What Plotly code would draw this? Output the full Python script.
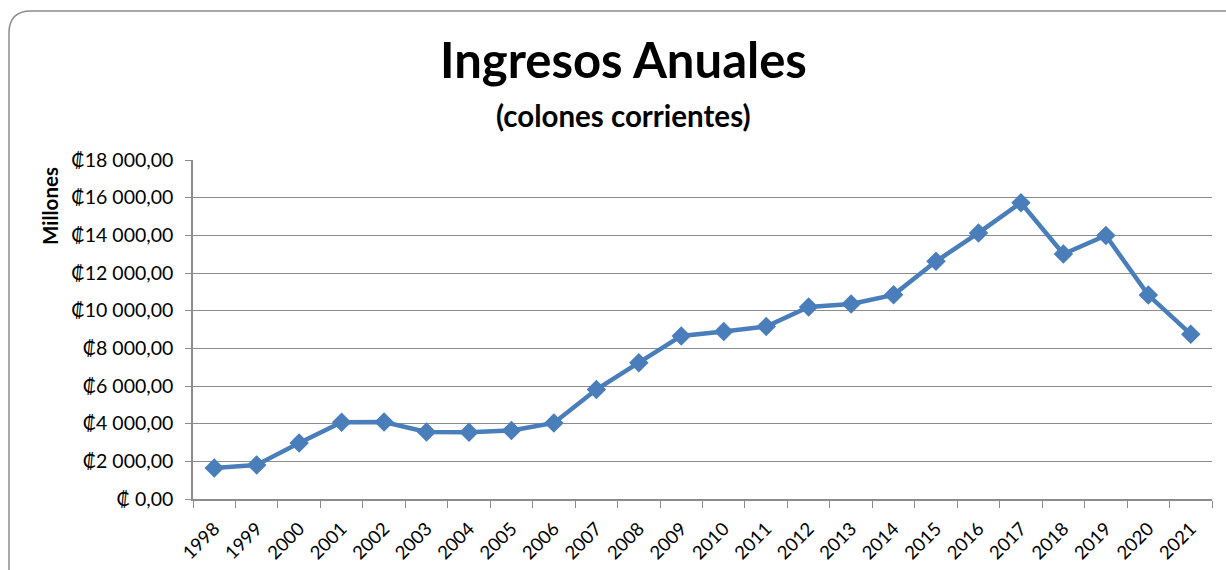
import plotly.graph_objects as go

years = [str(y) for y in range(1998, 2022)]
ingresos = [1640, 1810, 2970, 4070, 4090, 3560, 3540, 3640, 4040, 5810, 7240, 8660,
            8890, 9160, 10200, 10350, 10840, 12620, 14130, 15730, 13010, 13990, 10830, 8750]
y_tickvals = [0, 2000, 4000, 6000, 8000, 10000, 12000, 14000, 16000, 18000]
y_ticktext = ["₡ 0,00", "₡2 000,00", "₡4 000,00", "₡6 000,00", "₡8 000,00", "₡10 000,00",
              "₡12 000,00", "₡14 000,00", "₡16 000,00", "₡18 000,00"]

W, H = 1226, 570
L, R, T, B = 193, 1212, 160, 499
pw, ph = R - L, B - T

def px(x):
    return (x - L) / pw

def py(y):
    return (B - y) / ph

FONT = "Lato, Calibri, 'Open Sans', sans-serif"

fig = go.Figure()
fig.add_trace(go.Scatter(
    x=years, y=ingresos, mode="lines+markers",
    line=dict(color="#4A7EBB", width=4.5),
    marker=dict(symbol="diamond", size=15, color="#4A7EBB"),
    showlegend=False,
))

frame = (f"M {px(9)},{py(590)} L {px(9)},{py(33)} "
         f"Q {px(9)},{py(11)} {px(31)},{py(11)} L {px(1250)},{py(11)}")

fig.update_layout(
    width=W, height=H,
    margin=dict(l=L, r=W - R, t=T, b=H - B),
    paper_bgcolor="white", plot_bgcolor="white",
    font=dict(family=FONT, color="black"),
    xaxis=dict(
        type="category", range=[-0.5, 23.5], automargin=False,
        tickson="boundaries", ticks="outside", ticklen=7, tickcolor="#8C8C8C",
        showline=True, linecolor="#8C8C8C", linewidth=1.5,
        showgrid=False, tickangle=-45, tickfont=dict(size=18.5, family=FONT),
        ticklabelstandoff=10,
    ),
    yaxis=dict(
        range=[0, 18000], tickvals=y_tickvals, ticktext=y_ticktext, automargin=False,
        ticks="outside", ticklen=6, tickcolor="#8C8C8C",
        showline=True, linecolor="#8C8C8C", linewidth=1.5,
        showgrid=True, gridcolor="#8C8C8C", gridwidth=1.2,
        tickfont=dict(size=19.5, family=FONT), zeroline=False,
        ticklabelstandoff=8,
    ),
    shapes=[dict(type="path", xref="paper", yref="paper", path=frame,
                 line=dict(color="#8C8C8C", width=1.5), layer="below")],
    annotations=[
        dict(text="<b>Ingresos Anuales</b>", x=px(623), y=py(59), xref="paper", yref="paper",
             showarrow=False, font=dict(size=49, family=FONT), xanchor="center", yanchor="middle"),
        dict(text="<b>(colones corrientes)</b>", x=px(623), y=py(115), xref="paper", yref="paper",
             showarrow=False, font=dict(size=29.5, family=FONT), xanchor="center", yanchor="middle"),
        dict(text="<b>Millones</b>", x=px(50), y=py(206), xref="paper", yref="paper",
             showarrow=False, textangle=-90, font=dict(size=20.5, family=FONT),
             xanchor="center", yanchor="middle"),
    ],
)

fig.write_html("out.html", config={"displayModeBar": False},
               post_script="document.body.style.margin='0';")
